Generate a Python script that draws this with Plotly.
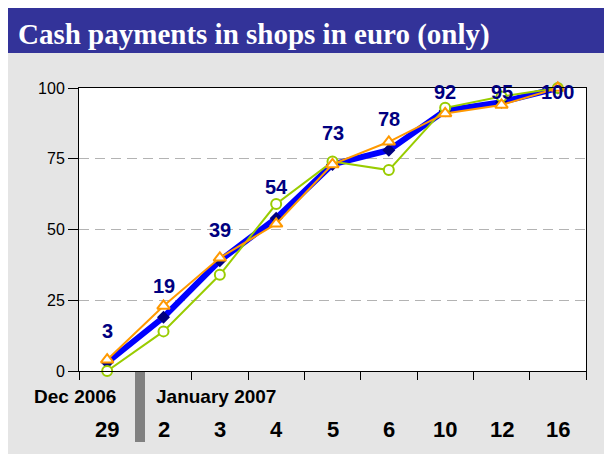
"""Cash payments in shops in euro (only) - changeover days"""

import plotly.graph_objects as go

days = ["29", "2", "3", "4", "5", "6", "10", "12", "16"]
cash_euro = [3, 19, 39, 54, 73, 78, 92, 95, 100]
series_orange = [4, 23, 40, 52, 73, 81, 91, 94, 100]
series_green = [0, 14, 34, 59, 74, 71, 93, 97, 100]
y_ticks = [0, 25, 50, 75, 100]

NAVY = "#000080"
SANS = "Liberation Sans, Arial, sans-serif"

# page puts the figure 8px in from the window edge
OFF = 8
W, H = 612 - OFF, 454 - OFF
# plot area in window pixels: x 79..586, y 88..371
L, R, T, B = 79, 586, 88, 371


def px_x(p):
    return (p - L) / (R - L)


def px_y(p):
    return (B - p) / (B - T)


fig = go.Figure()

fig.add_trace(go.Scatter(
    x=days, y=cash_euro, mode="lines+markers",
    line=dict(color="#0000FF", width=6),
    marker=dict(symbol="diamond", size=10, color=NAVY),
    cliponaxis=False, showlegend=False,
))
fig.add_trace(go.Scatter(
    x=days, y=series_green, mode="lines+markers",
    line=dict(color="#99CC00", width=2),
    marker=dict(symbol="circle", size=10, color="white",
                line=dict(color="#99CC00", width=2)),
    cliponaxis=False, showlegend=False,
))
fig.add_trace(go.Scatter(
    x=days, y=series_orange, mode="lines+markers",
    line=dict(color="#FF9900", width=2),
    marker=dict(symbol="triangle-up", size=11, color="white",
                line=dict(color="#FF9900", width=2)),
    cliponaxis=False, showlegend=False,
))

# value labels above the blue line (kept inside the frame at the top)
for i, v in enumerate(cash_euro):
    fig.add_annotation(
        x=i, y=min(v + 11, 98.5), text=str(v), showarrow=False,
        yanchor="middle", font=dict(family=SANS, size=20, color=NAVY, weight="bold"),
    )

# day labels under the axis
for i, d in enumerate(days):
    fig.add_annotation(
        x=i, y=px_y(429), yref="paper", text=d, showarrow=False,
        yanchor="middle", font=dict(family=SANS, size=22, color="black", weight="bold"),
    )

fig.add_annotation(x=px_x(75), y=px_y(396), xref="paper", yref="paper",
                   text="Dec 2006", showarrow=False, xanchor="center", yanchor="middle",
                   font=dict(family=SANS, size=19, color="black", weight="bold"))
fig.add_annotation(x=px_x(154), y=px_y(396), xref="paper", yref="paper",
                   text="January 2007", showarrow=False, xanchor="left", yanchor="middle",
                   font=dict(family=SANS, size=19, color="black", weight="bold"))

# background panels, white plot area and year separator
fig.add_shape(type="rect", xref="paper", yref="paper", layer="below",
              x0=px_x(7), x1=px_x(620), y0=px_y(53), y1=px_y(7),
              fillcolor="#333399", line_width=0)
fig.add_shape(type="rect", xref="paper", yref="paper", layer="below",
              x0=px_x(7), x1=px_x(620), y0=px_y(470), y1=px_y(53),
              fillcolor="#E5E5E5", line_width=0)
fig.add_shape(type="rect", xref="paper", yref="paper", layer="below",
              x0=0, x1=1, y0=0, y1=1, fillcolor="white", line_width=0)
fig.add_shape(type="rect", xref="paper", yref="paper", layer="above",
              x0=px_x(135), x1=px_x(145), y0=px_y(442), y1=px_y(372),
              fillcolor="#808080", line_width=0)

fig.update_layout(
    width=W, height=H,
    margin=dict(l=L - OFF, r=W + OFF - R, t=T - OFF, b=H + OFF - B),
    paper_bgcolor="white", plot_bgcolor="white",
    title=dict(text="<b>Cash payments in shops in euro (only)</b>",
               x=(18 - OFF) / W, xanchor="left", y=1 - (34 - OFF) / H, yanchor="middle",
               font=dict(family="Liberation Serif, Times New Roman, serif", size=29, color="white")),
    xaxis=dict(type="category", range=[-0.5, 8.5], showticklabels=False,
               ticks="outside", ticklen=8, tickcolor="black", tickson="boundaries",
               showline=True, linecolor="black", linewidth=1, mirror=True,
               showgrid=False, zeroline=False),
    yaxis=dict(range=[0, 100], tickvals=y_ticks,
               ticks="outside", ticklen=10, tickcolor="black",
               tickfont=dict(family=SANS, size=16, color="black"),
               showline=True, linecolor="black", linewidth=1, mirror=True,
               showgrid=True, gridcolor="#B3B3B3", griddash="10px,6px", gridwidth=1,
               zeroline=False),
)

fig.write_html("out.html")
